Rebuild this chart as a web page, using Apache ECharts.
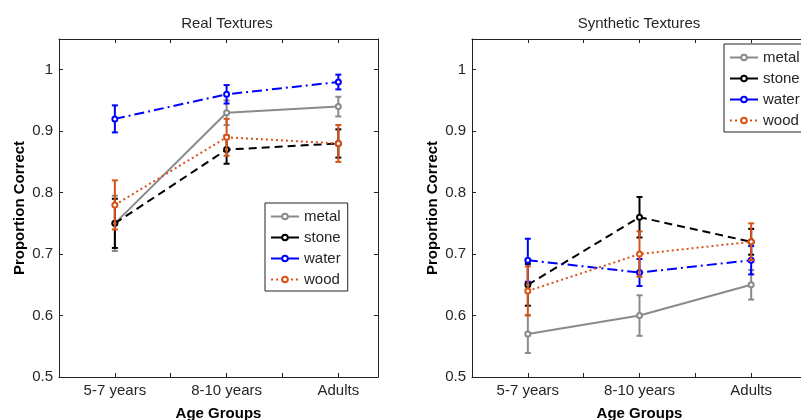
<!DOCTYPE html>
<html>
<head>
<meta charset="utf-8">
<script src="https://cdn.jsdelivr.net/npm/echarts@6/dist/echarts.min.js"></script>
<style>html,body{margin:0;padding:0;background:#fff;}#c{width:801px;height:420px;}</style>
</head>
<body>
<div id="c"></div>
<script>
// ---- data ----
var categories = ['5-7 years', '8-10 years', 'Adults'];
var seriesNames = ['metal', 'stone', 'water', 'wood'];
var panelTitles = ['Real Textures', 'Synthetic Textures'];
var yTicks = [0.5, 0.6, 0.7, 0.8, 0.9, 1];

var realMetal = [0.75, 0.93, 0.94];
var realMetalErr = [0.045, 0.02, 0.016];
var realStone = [0.75, 0.87, 0.88];
var realStoneErr = [0.04, 0.023, 0.023];
var realWater = [0.92, 0.96, 0.98];
var realWaterErr = [0.022, 0.015, 0.012];
var realWood = [0.78, 0.89, 0.88];
var realWoodErr = [0.04, 0.03, 0.03];

var synMetal = [0.57, 0.60, 0.65];
var synMetalErr = [0.031, 0.033, 0.024];
var synStone = [0.65, 0.76, 0.72];
var synStoneErr = [0.034, 0.033, 0.021];
var synWater = [0.69, 0.67, 0.69];
var synWaterErr = [0.035, 0.022, 0.023];
var synWood = [0.64, 0.70, 0.72];
var synWoodErr = [0.04, 0.037, 0.03];

// ---- styles ----
var colors = {metal: '#8a8a8a', stone: '#000000', water: '#0000ff', wood: '#d95319'};
var dashes = {metal: 'solid', stone: [8, 5], water: [10, 4, 2, 4], wood: [2, 3]};
var legendDashes = {metal: 'solid', stone: 'solid', water: 'solid', wood: [2, 3]};
var textColor = '#262626';
var font = 'Liberation Sans, Arial, sans-serif';

var panels = [
  {vals: [realMetal, realStone, realWater, realWood], errs: [realMetalErr, realStoneErr, realWaterErr, realWoodErr]},
  {vals: [synMetal, synStone, synWater, synWood], errs: [synMetalErr, synStoneErr, synWaterErr, synWoodErr]}
];

var grids = [
  {left: 59, top: 39, width: 319, height: 338, xmax: 3.355, titleX: 222},
  {left: 472, top: 39, width: 335, height: 338, xmax: 3.5, titleX: 634}
];

function xLabel(v) {
  var i = Math.round(v);
  if (Math.abs(v - i) < 1e-6 && i >= 1 && i <= categories.length) return categories[i - 1];
  return '';
}
function yLabel(v) {
  for (var k = 0; k < yTicks.length; k++) if (Math.abs(v - yTicks[k]) < 1e-6) return String(yTicks[k] === 1 ? '1' : yTicks[k].toFixed(1));
  return '';
}

var option = {
  animation: false,
  backgroundColor: '#fff',
  title: [], grid: [], xAxis: [], yAxis: [], legend: [], series: []
};

grids.forEach(function (g, p) {
  option.grid.push({left: g.left, top: g.top, width: g.width, height: g.height, containLabel: false, outerBoundsMode: 'none'});
  option.title.push({
    text: panelTitles[p], left: g.titleX, top: 11, textAlign: 'center',
    textStyle: {fontFamily: font, fontSize: 15, fontWeight: 'normal', color: textColor}
  });
  var axLine = {show: true, lineStyle: {color: '#222', width: 1}};
  var tick = {show: true, inside: true, length: 4, lineStyle: {color: '#222'}};
  option.xAxis.push({
    gridIndex: p, type: 'value', min: 0.5, max: g.xmax, interval: 0.5, position: 'bottom',
    axisLine: axLine, axisTick: tick, splitLine: {show: false},
    axisLabel: {formatter: xLabel, color: textColor, fontFamily: font, fontSize: 15, margin: 6, showMinLabel: true, showMaxLabel: false},
    name: 'Age Groups', nameLocation: 'middle', nameGap: 29,
    nameTextStyle: {fontFamily: font, fontSize: 15, fontWeight: 'bold', color: '#000'}
  });
  option.xAxis.push({
    gridIndex: p, type: 'value', min: 0.5, max: g.xmax, interval: 0.5, position: 'top',
    axisLine: axLine, axisTick: tick, splitLine: {show: false}, axisLabel: {show: false}
  });
  option.yAxis.push({
    gridIndex: p, type: 'value', min: 0.5, max: 1.05, interval: 0.1, position: 'left',
    axisLine: axLine, axisTick: tick, splitLine: {show: false},
    axisLabel: {formatter: yLabel, color: textColor, fontFamily: font, fontSize: 15, margin: 6},
    name: 'Proportion Correct', nameLocation: 'middle', nameGap: 32, nameRotate: 90,
    nameTextStyle: {fontFamily: font, fontSize: 15, fontWeight: 'bold', color: '#000'}
  });
  option.yAxis.push({
    gridIndex: p, type: 'value', min: 0.5, max: 1.05, interval: 0.1, position: 'right',
    axisLine: axLine, axisTick: tick, splitLine: {show: false}, axisLabel: {show: false}
  });

  var xi = p * 2, yi = p * 2;
  seriesNames.forEach(function (name, s) {
    var vals = panels[p].vals[s], errs = panels[p].errs[s];
    var col = colors[name];
    var errData = vals.map(function (v, i) { return [i + 1, v, errs[i]]; });
    option.series.push({
      type: 'custom', name: name + '-err-' + p, xAxisIndex: xi, yAxisIndex: yi, z: 3 + s,
      data: errData, silent: true,
      renderItem: function (params, api) {
        var x = api.value(0), y = api.value(1), e = api.value(2);
        var t = api.coord([x, y + e]), b = api.coord([x, y - e]);
        var cw = 3;
        var st = {stroke: col, lineWidth: 2};
        return {type: 'group', children: [
          {type: 'line', shape: {x1: t[0], y1: t[1], x2: b[0], y2: b[1]}, style: st},
          {type: 'line', shape: {x1: t[0] - cw, y1: t[1], x2: t[0] + cw, y2: t[1]}, style: st},
          {type: 'line', shape: {x1: b[0] - cw, y1: b[1], x2: b[0] + cw, y2: b[1]}, style: st}
        ]};
      }
    });
    option.series.push({
      type: 'line', name: name, xAxisIndex: xi, yAxisIndex: yi, z: 3 + s,
      data: vals.map(function (v, i) { return [i + 1, v]; }),
      symbol: 'emptyCircle', symbolSize: 5, showSymbol: true,
      lineStyle: {color: col, width: 2, type: dashes[name]},
      itemStyle: {color: col, borderColor: col, borderWidth: 1.3},
      legendHoverLink: false
    });
  });
});

var legendPos = [{left: 265, top: 203}, {left: 724, top: 44}];
legendPos.forEach(function (lp, p) {
  option.legend.push({
    data: seriesNames.map(function (n) {
      return {name: n, lineStyle: {type: legendDashes[n], color: colors[n], width: 2}};
    }),
    orient: 'vertical', left: lp.left, top: lp.top,
    padding: [6, 7, 4, 5], itemGap: 6, itemWidth: 28, itemHeight: 7,
    borderColor: '#222', borderWidth: 1, backgroundColor: '#fff',
    selectedMode: false,
    textStyle: {fontFamily: font, fontSize: 15, color: textColor}
  });
});

var chart = echarts.init(document.getElementById('c'), null, {renderer: 'canvas'});
chart.setOption(option);
</script>
</body>
</html>
